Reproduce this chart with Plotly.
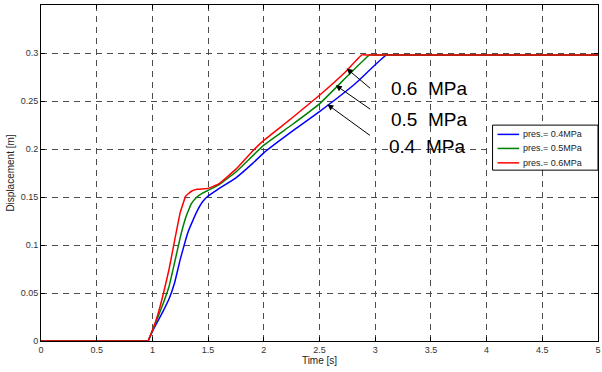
import plotly.graph_objects as go

# ---- data ----
t_04 = [0, 0.5, 0.92, 0.96, 1.0, 1.05, 1.1, 1.15, 1.2, 1.25, 1.3, 1.325, 1.35, 1.4, 1.45, 1.5, 1.55, 1.6, 1.75, 1.9, 2.0, 2.25, 2.5, 2.82, 3.1, 3.15, 3.6, 4.3, 5.0]
d_04 = [0, 0, 0, 0, 0.01, 0.021, 0.032, 0.044, 0.061, 0.085, 0.106, 0.115, 0.122, 0.135, 0.145, 0.151, 0.155, 0.159, 0.17, 0.185, 0.196, 0.218, 0.239, 0.268, 0.298, 0.298, 0.298, 0.298, 0.298]

t_05 = [0, 0.5, 0.92, 0.96, 1.0, 1.05, 1.1, 1.15, 1.2, 1.25, 1.3, 1.35, 1.4, 1.45, 1.5, 1.6, 1.75, 2.0, 2.25, 2.5, 2.76, 2.95, 3.0, 3.6, 4.3, 5.0]
d_05 = [0, 0, 0, 0, 0.011, 0.025, 0.04, 0.057, 0.082, 0.108, 0.129, 0.143, 0.15, 0.154, 0.157, 0.163, 0.176, 0.204, 0.225, 0.247, 0.277, 0.298, 0.298, 0.298, 0.298, 0.298]

t_06 = [0, 0.5, 0.92, 0.96, 1.0, 1.05, 1.1, 1.15, 1.2, 1.25, 1.3, 1.35, 1.4, 1.5, 1.6, 1.75, 1.9, 2.0, 2.25, 2.5, 2.73, 2.88, 2.93, 3.6, 4.3, 5.0]
d_06 = [0, 0, 0, 0, 0.011, 0.028, 0.05, 0.075, 0.105, 0.134, 0.151, 0.156, 0.158, 0.159, 0.164, 0.179, 0.198, 0.209, 0.232, 0.256, 0.28, 0.298, 0.298, 0.298, 0.298, 0.298]

series_names = ["pres.= 0.4MPa", "pres.= 0.5MPa", "pres.= 0.6MPa"]
series_colors = ["#0000FF", "#008000", "#FF0000"]

x_tickvals = [0, 0.5, 1, 1.5, 2, 2.5, 3, 3.5, 4, 4.5, 5]
x_ticktext = ["0", "0.5", "1", "1.5", "2", "2.5", "3", "3.5", "4", "4.5", "5"]
y_tickvals = [0, 0.05, 0.1, 0.15, 0.2, 0.25, 0.3]
y_ticktext = ["0", "0.05", "0.1", "0.15", "0.2", "0.25", "0.3"]

# annotation labels: text, arrow head (t, d), text position (t, d)
label_texts = ["0.6  MPa", "0.5  MPa", "0.4  MPa"]
arrow_heads_t = [2.744, 2.646, 2.571]
arrow_heads_d = [0.2838, 0.2664, 0.2464]
label_t = [3.12, 3.12, 3.11]
label_d = [0.2629, 0.2309, 0.2028]

FONT = "Liberation Sans, Arial, sans-serif"

fig = go.Figure()
for tt, dd, nm, col in zip([t_04, t_05, t_06], [d_04, d_05, d_06], series_names, series_colors):
    fig.add_trace(go.Scatter(x=tt, y=dd, mode="lines", name=nm, showlegend=False,
                             line=dict(color=col, width=1.5, shape="spline", smoothing=0.3)))

# arrows (tail offset in pixels)
arrow_offsets = [(25, 21), (36, 25), (44, 32)]
for (ax, ay), hx, hy in zip(arrow_offsets, arrow_heads_t, arrow_heads_d):
    fig.add_annotation(x=hx, y=hy, ax=ax, ay=ay, xref="x", yref="y",
                       showarrow=True, arrowhead=2, arrowsize=1.2, arrowwidth=1,
                       arrowcolor="black", text="")

for txt, lx, ly in zip(label_texts, label_t, label_d):
    fig.add_annotation(x=lx, y=ly, xref="x", yref="y", text=txt, showarrow=False,
                       xanchor="left", yanchor="middle",
                       font=dict(family=FONT, size=19, color="black"))

# legend box (compact, MATLAB-style)
leg_x0, leg_x1, leg_y0, leg_y1 = 0.8107, 1.0, 0.5085, 0.6425
leg_rows = [0.6149, 0.5731, 0.5302]
fig.add_shape(type="rect", xref="paper", yref="paper", x0=leg_x0, x1=leg_x1, y0=leg_y0, y1=leg_y1,
              line=dict(color="black", width=1), fillcolor="white", layer="above")
for nm, col, ry in zip(series_names, series_colors, leg_rows):
    fig.add_shape(type="line", xref="paper", yref="paper", x0=0.8196, x1=0.8584, y0=ry, y1=ry,
                  line=dict(color=col, width=1.5), layer="above")
    fig.add_annotation(x=0.8613, y=ry, xref="paper", yref="paper", text=nm, showarrow=False,
                       xanchor="left", yanchor="middle",
                       font=dict(family=FONT, size=9, color="#222222"))

axis_common = dict(showline=True, linecolor="black", linewidth=1, mirror="ticks",
                   ticks="inside", ticklen=4, tickcolor="black",
                   showgrid=True, gridcolor="#4d4d4d", gridwidth=1, griddash="6px,5px",
                   zeroline=False,
                   tickfont=dict(family=FONT, size=9, color="#333333"))

fig.update_xaxes(range=[0, 5], tickvals=x_tickvals, ticktext=x_ticktext, ticklabeloverflow="allow",
                 title=dict(text="Time [s]", font=dict(family=FONT, size=10, color="#222222"), standoff=1),
                 **axis_common)
fig.update_yaxes(range=[0, 0.35], tickvals=y_tickvals + [0.35], ticktext=y_ticktext + [""],
                 title=dict(text="Displacement [m]", font=dict(family=FONT, size=10, color="#222222"), standoff=4),
                 **axis_common)

fig.update_layout(
    width=602, height=372,
    margin=dict(l=41, r=1, t=5, b=31),
    paper_bgcolor="white", plot_bgcolor="white",
    showlegend=False,
)

fig.write_html("out.html")
